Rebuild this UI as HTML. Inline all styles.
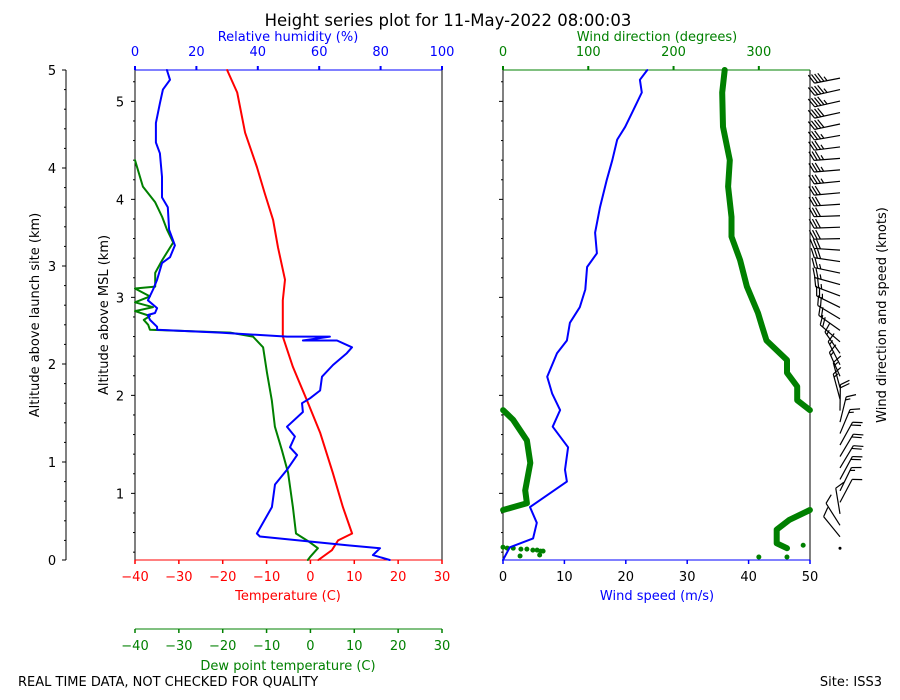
<!DOCTYPE html>
<html><head><meta charset="utf-8"><style>
body{margin:0;background:#fff;}
svg{display:block;font-family:"DejaVu Sans","Liberation Sans",sans-serif;}
</style></head><body>
<svg id="chart" width="900" height="700" viewBox="0 0 900 700">
<text x="448" y="26" font-size="16.5" text-anchor="middle">Height series plot for 11-May-2022 08:00:03</text>
<text x="18" y="686" font-size="13">REAL TIME DATA, NOT CHECKED FOR QUALITY</text>
<text x="882" y="686" font-size="13" text-anchor="end">Site: ISS3</text>
<g id="g"></g>
</svg>
<script>
// ---- data (altitude above launch site km, value) ----
const tempH = [0,0.10,0.20,0.27,0.54,0.89,1.30,1.63,1.97,2.28,2.45,2.65,2.86,3.19,3.47,3.74,4.01,4.36,4.77,5.0];
const tempC = [1.8,4.9,6.3,9.5,7.4,5.1,2.2,-0.8,-4.0,-6.3,-6.3,-6.3,-5.8,-7.4,-8.5,-10.4,-12.2,-14.9,-16.7,-19.0];
const dewH = [0,0.03,0.12,0.18,0.27,0.54,0.89,1.12,1.36,1.63,1.91,2.17,2.28,2.32,2.35,2.40,2.45,2.49,2.54,2.58,2.63,2.69,2.77,2.79,2.93,3.06,3.24,3.37,3.50,3.65,3.81,4.08];
const dewC = [-0.6,-0.1,1.7,-0.1,-3.3,-4.0,-5.1,-6.5,-8.1,-8.8,-9.9,-10.8,-13.1,-18.3,-36.6,-37,-38,-36.6,-40,-35.9,-40,-36.6,-40,-35.4,-35.4,-33.8,-31.3,-32.7,-33.8,-35.4,-38.2,-40];
const rhH = [0,0.05,0.12,0.15,0.24,0.27,0.54,0.77,0.92,1.07,1.15,1.26,1.36,1.51,1.60,1.65,1.73,1.87,1.99,2.11,2.17,2.24,2.24,2.28,2.28,2.32,2.35,2.38,2.45,2.50,2.52,2.57,2.65,2.76,2.86,3.03,3.09,3.21,3.37,3.60,3.70,3.91,4.15,4.26,4.46,4.66,4.80,4.90,5.0];
const rhPct = [83,77.5,79.8,69.1,40.7,39.7,44.6,45.6,49.5,52.8,50.5,52.1,49.5,54.7,54.4,57,60.3,60.9,64.5,69,70.7,65.8,54.7,63.5,49.5,27.7,7.2,7.2,4.9,4.2,6.5,7.2,4.2,5.9,7.2,8.8,11.4,13.0,11.1,10.7,8.8,8.8,8.1,6.8,6.8,8.1,9.1,11.4,10.4];
const wsH = [0,0.13,0.22,0.38,0.54,0.80,0.92,1.15,1.36,1.53,1.70,1.87,2.11,2.24,2.42,2.58,2.76,2.99,3.13,3.34,3.60,3.88,4.08,4.29,4.42,4.56,4.77,4.9,5.0];
const wsMs = [0,1.1,4.9,5.5,4.4,10.4,10.1,10.6,8.1,9.3,8.0,7.2,8.8,10.4,10.9,12.5,13.4,13.7,15.3,15.0,15.8,16.9,17.8,18.6,19.9,21.0,22.6,22.3,23.5];
const dirDotH = [0.0,0.0,0.01,0.02,0.06,0.06,0.07,0.07,0.08,0.08,0.09,0.09,0.10,0.12];
const dirDotDeg = [300,333,20,43,47,44,40,35,28,21,12,5,0,352];
const dirH = [0.12,0.17,0.31,0.41,0.51,0.51,0.58,0.71,0.99,1.22,1.43,1.53,1.53,1.63,1.77,1.91,2.04,2.24,2.38,2.52,2.79,3.06,3.30,3.50,3.81,4.08,4.42,4.77,5.0];
const dirDeg = [333,321,321,336,359.9,0.1,28,26,32,28,12,0.1,359.9,345,345,333,333,309,304,299,286,278,268,268,264,266,258,257,260];
const rhTicks = [0,20,40,60,80,100];
const tTicks = [-40,-30,-20,-10,0,10,20,30];
const wsTicks = [0,10,20,30,40,50];
const dirTicks = [0,100,200,300];
const aglTicks = [0,1,2,3,4,5];
const mslTicks = [1,2,3,4,5];
const mslOffset = 0.32;

// ---- axes functions ----
const Y0=560, PXKM=98;
const y = h => Y0 - h*PXKM;
const xT = t => 135 + (t+40)*307/70;
const xRH = r => 135 + r*3.07;
const xWS = s => 503 + s*307/50;
const xDir = d => 503 + d*307/360;
const NS='http://www.w3.org/2000/svg';
const g=document.getElementById('g');
function mk(tag, attrs, parent){const e=document.createElementNS(NS,tag);for(const k in attrs)e.setAttribute(k,attrs[k]);(parent||g).appendChild(e);return e;}
function txt(x,yy,s,opt){const e=mk('text',Object.assign({x:x,y:yy,'font-size':13,'text-anchor':'middle'},opt||{}));e.textContent=s;return e;}

// outer AGL axis
let e=mk('line',{x1:66,y1:70,x2:66,y2:560,stroke:'#000'});


for(let i=0;i<=25;i++){const h=i*0.2;const maj=i%5===0;e=mk('line',{x1:66-(maj?4:2),y1:y(h),x2:66,y2:y(h),stroke:'#000'});
 
 }
aglTicks.forEach(v=>{e=txt(52,y(v)+5,String(v));
 
 });
e=txt(0,0,'Altitude above launch site (km)',{transform:'translate(39,315) rotate(-90)'});



// MSL ticks on left panel and right panel
for(let m=0.4;m<=5.3;m+=0.2){const h=m-mslOffset;if(h<0||h>5.001)continue;const maj=Math.abs(m-Math.round(m))<0.01;
 [135,503].forEach(x=>{e=mk('line',{x1:x-(maj?4:2),y1:y(h),x2:x,y2:y(h),stroke:'#000'});
 
 });}
mslTicks.forEach(v=>{e=txt(120,y(v-mslOffset)+5,String(v));
 
 });
e=txt(0,0,'Altitude above MSL (km)',{transform:'translate(108,315) rotate(-90)'});



// left panel frame
e=mk('line',{x1:135,y1:70,x2:135,y2:560,stroke:'#000'});
e=mk('line',{x1:442,y1:70,x2:442,y2:560,stroke:'#000'});
e=mk('line',{x1:135,y1:70,x2:442,y2:70,stroke:'#00f'});
e=mk('line',{x1:135,y1:560,x2:442,y2:560,stroke:'#f00'});
e=mk('line',{x1:135,y1:629,x2:442,y2:629,stroke:'#008000'});
rhTicks.forEach(v=>{e=mk('line',{x1:xRH(v),y1:66,x2:xRH(v),y2:70,stroke:'#00f','stroke-width':2});
 e=txt(xRH(v),56,String(v),{fill:'#00f'});});
e=txt(288,41,'Relative humidity (%)',{fill:'#00f'});
tTicks.forEach(v=>{const lab=v<0?'\u2212'+(-v):String(v);
 e=mk('line',{x1:xT(v),y1:560,x2:xT(v),y2:564,stroke:'#f00','stroke-width':1.5});
 e=txt(xT(v),581,lab,{fill:'#f00'});
 e=mk('line',{x1:xT(v),y1:629,x2:xT(v),y2:633,stroke:'#008000','stroke-width':1.5});
 e=txt(xT(v),650,lab,{fill:'#008000'});});
e=txt(288,600,'Temperature (C)',{fill:'#f00'});
e=txt(288,670,'Dew point temperature (C)',{fill:'#008000'});

function series(H,V,fx,color,w,name){const pts=H.map((h,i)=>fx(V[i]).toFixed(1)+','+y(h).toFixed(1)).join(' ');
 const p=mk('polyline',{points:pts,fill:'none',stroke:color,'stroke-width':w,'stroke-linejoin':'round','stroke-linecap':'round'});
 
 return p;}
series(dewH,dewC,v=>Math.max(135,xT(v)),'#008000',2,'dewpoint-line');
series(tempH,tempC,xT,'#f00',2,'temperature-line');
series(rhH,rhPct,xRH,'#00f',2,'relative-humidity-line');

// right panel frame
e=mk('line',{x1:503,y1:70,x2:503,y2:560,stroke:'#000'});
e=mk('line',{x1:810,y1:70,x2:810,y2:560,stroke:'#000'});
e=mk('line',{x1:503,y1:70,x2:810,y2:70,stroke:'#008000'});
e=mk('line',{x1:503,y1:560,x2:810,y2:560,stroke:'#00f'});
dirTicks.forEach(v=>{e=mk('line',{x1:xDir(v),y1:66,x2:xDir(v),y2:70,stroke:'#008000','stroke-width':2});
 e=txt(xDir(v),56,String(v),{fill:'#008000'});});
e=txt(657,41,'Wind direction (degrees)',{fill:'#008000'});
wsTicks.forEach(v=>{e=mk('line',{x1:xWS(v),y1:560,x2:xWS(v),y2:564,stroke:'#00f','stroke-width':1.5});
 e=txt(xWS(v),581,String(v));});
e=txt(657,600,'Wind speed (m/s)',{fill:'#00f'});

// wind direction thick line, split at wraps
let seg=[];const segs=[];
dirH.forEach((h,i)=>{if(i>0&&Math.abs(dirDeg[i]-dirDeg[i-1])>180){segs.push(seg);seg=[];}seg.push(i);});segs.push(seg);
segs.forEach(s=>{const p=mk('polyline',{points:s.map(i=>xDir(dirDeg[i]).toFixed(1)+','+y(dirH[i]).toFixed(1)).join(' '),fill:'none',stroke:'#008000','stroke-width':6,'stroke-linejoin':'round','stroke-linecap':'round'});
 
 });
dirDotH.forEach((h,i)=>{const c=mk('circle',{cx:xDir(dirDotDeg[i]),cy:y(h)-3,r:2.5,fill:'#008000'});
 
 });
series(wsH,wsMs,xWS,'#00f',2,'wind-speed-line');

// wind barbs
function interp(H,V,h){for(let i=1;i<H.length;i++){if(h<=H[i]){const t=(h-H[i-1])/((H[i]-H[i-1])||1);return V[i-1]+t*(V[i]-V[i-1]);}}return V[V.length-1];}
function dirAt(h){for(let i=1;i<dirH.length;i++){if(h<=dirH[i]){let a=dirDeg[i-1],b=dirDeg[i];if(Math.abs(a-b)>180)return b;const t=(h-dirH[i-1])/((dirH[i]-dirH[i-1])||1);return a+t*(b-a);}}return dirDeg[dirDeg.length-1];}
for(let h=0.12;h<=4.95;h+=0.117){
 const d=dirAt(h)*Math.PI/180, kt=interp(wsH,wsMs,h)*1.944;
 const bx=840, by=y(h);
 const ux=Math.sin(d), uy=-Math.cos(d), px=-uy, py=ux;
 const L=26, F=9;
 const grp=mk('g',{stroke:'#000','stroke-width':1.2,fill:'none'});
 
 
 if(kt<2.5){mk('circle',{cx:bx,cy:by,r:1.5,fill:'#000',stroke:'none'},grp);continue;}
 mk('line',{x1:bx,y1:by,x2:bx+ux*L,y2:by+uy*L},grp);
 let n=Math.round(kt/5), full=Math.floor(n/2), half=n%2, pos=L;
 for(let k=0;k<full;k++){const sx=bx+ux*pos, sy=by+uy*pos;mk('line',{x1:sx,y1:sy,x2:sx+px*F+ux*F*0.5,y2:sy+py*F+uy*F*0.5},grp);pos-=3.2;}
 if(half){if(full===0)pos-=3.2;const sx=bx+ux*pos, sy=by+uy*pos;mk('line',{x1:sx,y1:sy,x2:sx+px*F*0.5+ux*F*0.25,y2:sy+py*F*0.5+uy*F*0.25},grp);}
}
e=txt(0,0,'Wind direction and speed (knots)',{transform:'translate(886,315) rotate(-90)'});


</script>
</body></html>
